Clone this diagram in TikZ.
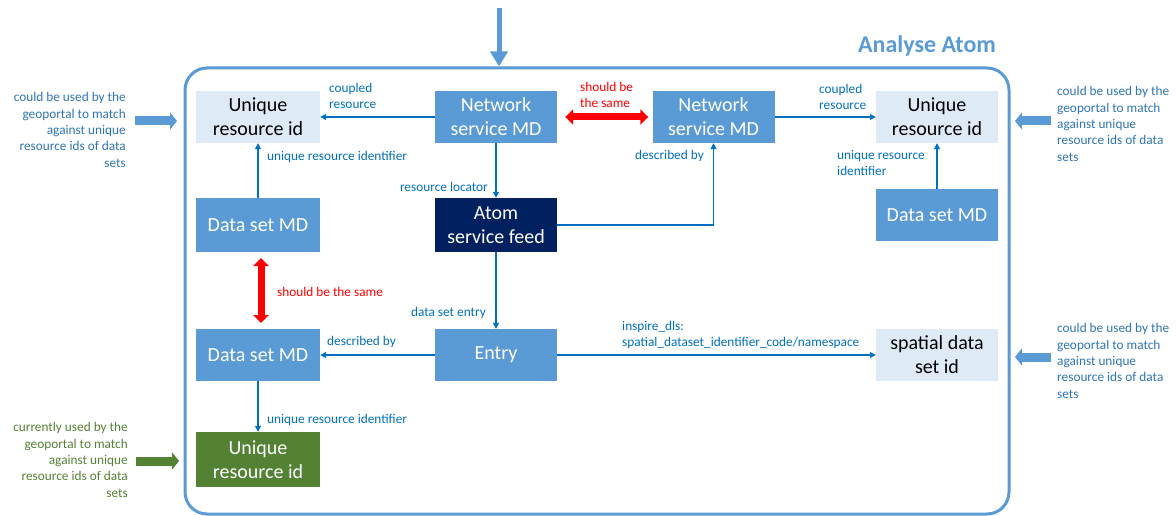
\documentclass[tikz,border=0pt]{standalone}
\usepackage{fontspec}
\setmainfont{Carlito}
\usetikzlibrary{arrows.meta}
\definecolor{mblue}{HTML}{5B9BD5}
\definecolor{lblue}{HTML}{DEEBF7}
\definecolor{navy}{HTML}{002060}
\definecolor{dgreen}{HTML}{548235}
\definecolor{lab}{HTML}{0070C0}
\definecolor{ann}{HTML}{2E75B6}
\definecolor{redc}{HTML}{FF0000}
\begin{document}
\begin{tikzpicture}[x=1pt,y=-1pt,
  box/.style={rectangle, inner sep=0pt, align=center, font=\fontsize{20}{24}\selectfont},
  mbox/.style={box, fill=mblue, text=white},
  lbox/.style={box, fill=lblue, text=black},
  nbox/.style={box, fill=navy, text=white},
  gbox/.style={box, fill=dgreen, text=white},
  wide/.style={minimum width=124pt, minimum height=52pt},
  mid/.style={minimum width=122pt, minimum height=52pt},
  lbl/.style={font=\fontsize{13.3}{16.3}\selectfont, text=lab, inner sep=0pt, align=left},
  rlbl/.style={lbl, text=redc},
  annr/.style={font=\fontsize{13.3}{16.3}\selectfont, text=ann, inner sep=0pt, align=right, anchor=east},
  annl/.style={font=\fontsize{13.3}{16.3}\selectfont, text=ann, inner sep=0pt, align=left, anchor=west},
  conn/.style={draw=lab, line width=1.2pt, -{Triangle[length=6pt,width=6pt]}},
  same/.style={draw=redc, line width=7pt, {Triangle[length=8pt,width=15pt]}-{Triangle[length=8pt,width=15pt]}},
  blockarrow/.style={draw=#1, line width=9pt, -{Triangle[length=7pt,width=17pt]}},
]
\useasboundingbox (0,0) rectangle (1176,516);

% frame
\draw[mblue, line width=3pt, rounded corners=22pt] (185,68) rectangle (1009,514);
\node[font=\fontsize{24}{28}\selectfont\bfseries, text=mblue, inner sep=0pt] (title) at (927,46) {Analyse Atom};
\coordinate (topin) at (499,8);
\coordinate (toptgt) at (499,66.5);
\draw[mblue, line width=5pt, -{Triangle[length=15pt,width=17pt]}] (topin) -- (toptgt);

% boxes
\node[lbox, wide] (uriTL) at (258,117) {Unique\\resource id};
\node[mbox, mid] (nsL) at (496,117) {Network\\service MD};
\node[mbox, mid] (nsR) at (713.5,117) {Network\\service MD};
\node[lbox, mid] (uriTR) at (937,117) {Unique\\resource id};
\node[mbox, wide, minimum height=54pt] (dsL) at (258,225) {Data set MD};
\node[nbox, mid, minimum height=54pt] (atom) at (496,225) {Atom\\service feed};
\node[mbox, mid] (dsR) at (937,215) {Data set MD};
\node[mbox, wide] (dsB) at (258,355) {Data set MD};
\node[mbox, mid] (entry) at (496,355) {Entry};
\node[lbox, mid] (sds) at (937,355) {spatial data\\set id};
\node[gbox, wide, minimum height=55pt] (uriG) at (258,459.5) {Unique\\resource id};

% connectors
\draw[conn] (nsL.west) -- (uriTL.east);
\draw[conn] (nsR.east) -- (uriTR.west);
\draw[conn] (nsL.south) -- (atom.north);
\draw[conn] (atom.east) -| (nsR.south);
\draw[conn] (dsL.north) -- (uriTL.south);
\draw[conn] (dsR.north) -- (uriTR.south);
\draw[conn] (atom.south) -- (entry.north);
\draw[conn] (entry.west) -- (dsB.east);
\draw[conn] (entry.east) -- (sds.west);
\draw[conn] (dsB.south) -- (uriG.north);

% red "same" arrows
\draw[same] ([xshift=8pt]nsL.east) -- ([xshift=-4pt]nsR.west);
\coordinate (sa) at (261,258);
\coordinate (sb) at (261,323);
\draw[same] (sa) -- (sb);

% labels
\node[lbl, anchor=west] (l1) at (329,96) {coupled\\resource};
\node[lbl, anchor=west] (l2) at (819,97) {coupled\\resource};
\node[rlbl, anchor=west] (l3) at (580,95) {should be\\the same};
\node[lbl, anchor=east] (l4) at (488,187) {resource locator};
\node[lbl, anchor=east] (l5) at (704,156) {described by};
\node[lbl, anchor=west] (l6) at (267,157) {unique resource identifier};
\node[lbl, anchor=west] (l7) at (837,163) {unique resource\\identifier};
\node[rlbl, anchor=west] (l8) at (277,292) {should be the same};
\node[lbl, anchor=east] (l9) at (486,313) {data set entry};
\node[lbl, anchor=west] (l10) at (327,342) {described by};
\node[lbl, anchor=west] (l11) at (622,335) {inspire\_dls:\\spatial\_dataset\_identifier\_code/namespace};
\node[lbl, anchor=west] (l12) at (267,420) {unique resource identifier};

% side annotations
\node[annr] (a1) at (126,130) {could be used by the\\geoportal to match\\against unique\\resource ids of data\\sets};
\node[annl] (a2) at (1057,124) {could be used by the\\geoportal to match\\against unique\\resource ids of data\\sets};
\node[annl] (a3) at (1057,361) {could be used by the\\geoportal to match\\against unique\\resource ids of data\\sets};
\node[annr, text=dgreen] (a4) at (128,460) {currently used by the\\geoportal to match\\against unique\\resource ids of data\\sets};

\coordinate (b1s) at (135,121); \coordinate (b1e) at (177,121);
\coordinate (b2s) at (1051,121); \coordinate (b2e) at (1015,121);
\coordinate (b3s) at (1051,357); \coordinate (b3e) at (1015,357);
\coordinate (b4s) at (136,461); \coordinate (b4e) at (179,461);
\draw[blockarrow=mblue] (b1s) -- (b1e);
\draw[blockarrow=mblue] (b2s) -- (b2e);
\draw[blockarrow=mblue] (b3s) -- (b3e);
\draw[blockarrow=dgreen] (b4s) -- (b4e);
\end{tikzpicture}
\end{document}
